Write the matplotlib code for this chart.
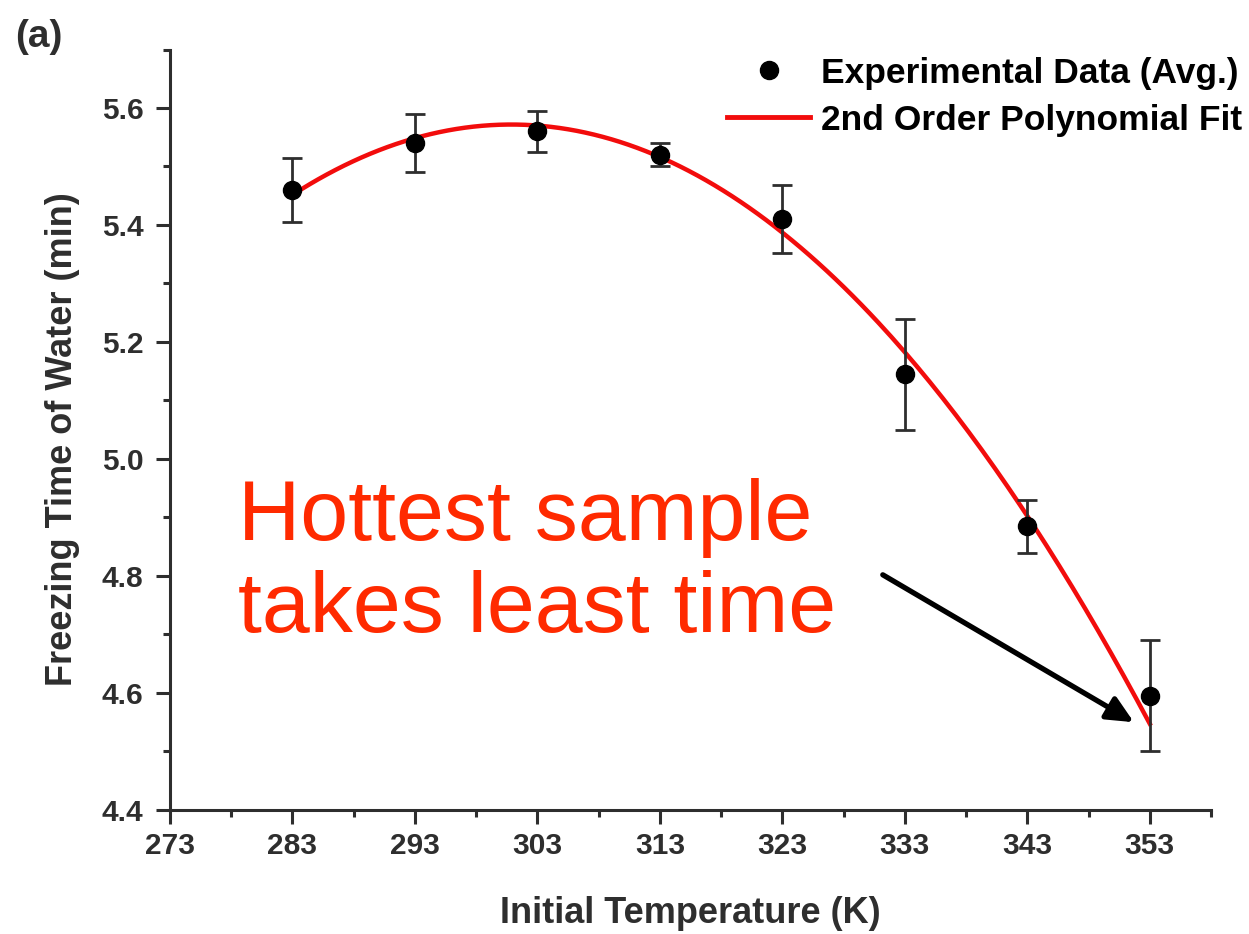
import numpy as np
import matplotlib
matplotlib.use('Agg')
import matplotlib.pyplot as plt
from matplotlib.lines import Line2D

temps = [283, 293, 303, 313, 323, 333, 343, 353]
times = [5.46, 5.54, 5.56, 5.52, 5.41, 5.145, 4.885, 4.595]
errs = [0.055, 0.05, 0.035, 0.02, 0.058, 0.095, 0.045, 0.095]

x_ticks = [273, 283, 293, 303, 313, 323, 333, 343, 353]
y_ticks = [4.4, 4.6, 4.8, 5.0, 5.2, 5.4, 5.6]

plt.rcParams['font.family'] = ['Liberation Sans', 'DejaVu Sans']
dark = '#2e2e2e'

fig = plt.figure(figsize=(12.49, 9.34), dpi=100)
ax = fig.add_axes([0.1361, 0.1328, 0.8335, 0.8142])

# 2nd order fit (weighted by the error bars)
coef = np.polyfit(temps, times, 2, w=1/np.array(errs))
xf = np.linspace(temps[0], temps[-1], 200)
ax.plot(xf, np.polyval(coef, xf), color='#f20c0c', lw=3.2, zorder=3)

ax.errorbar(temps, times, yerr=errs, fmt='o', color='black', ms=13,
            ecolor=dark, elinewidth=2, capsize=7, capthick=2, zorder=4)

ax.set_xlim(273, 358)
ax.set_ylim(4.4, 5.7)
ax.set_xticks(x_ticks)
ax.set_xticks(np.arange(278, 359, 10), minor=True)
ax.set_yticks(y_ticks)
ax.set_yticks(np.arange(4.5, 5.75, 0.2), minor=True)
ax.set_yticklabels(['%.1f' % v for v in y_ticks])

for s in ['top', 'right']:
    ax.spines[s].set_visible(False)
for s in ['left', 'bottom']:
    ax.spines[s].set_linewidth(2.2)
    ax.spines[s].set_color(dark)

ax.tick_params(which='major', direction='out', length=10, width=2.2, color=dark,
               labelsize=21.5, labelcolor=dark)
ax.tick_params(which='minor', direction='out', length=5, width=2.2, color=dark)
ax.tick_params(axis='x', which='major', pad=6)
ax.tick_params(axis='y', which='major', pad=9)
for lab in ax.get_xticklabels() + ax.get_yticklabels():
    lab.set_fontweight('bold')

ax.set_xlabel('Initial Temperature (K)', fontsize=26, fontweight='bold',
              color=dark)
ax.set_ylabel('Freezing Time of Water (min)', fontsize=26, fontweight='bold',
              color=dark)
ax.xaxis.set_label_coords(0.5, -0.113)
ax.yaxis.set_label_coords(-0.086, 0.488)

fig.text(0.012, 0.96, '(a)', fontsize=28, fontweight='bold', color=dark,
         va='center', ha='left')

handles = [Line2D([], [], marker='o', ls='none', color='black', ms=13),
           Line2D([], [], color='#f20c0c', lw=3.5)]
fig.legend(handles, ['Experimental Data (Avg.)', '2nd Order Polynomial Fit'],
           loc='upper right', bbox_to_anchor=(1.0, 0.947), frameon=False,
           prop={'weight': 'bold', 'size': 25.5}, handlelength=2.35,
           handletextpad=0.3, labelspacing=0.4, borderpad=0.1,
           borderaxespad=0.1)

ax.text(0.0655, 0.234, 'Hottest sample\ntakes least time', transform=ax.transAxes,
        fontsize=62, color='#ff2a00', ha='left', va='baseline',
        linespacing=1.2)
ax.annotate('', xy=(351.7, 4.55), xytext=(331.2, 4.802),
            arrowprops=dict(arrowstyle='-|>,head_length=1.6,head_width=0.75',
                            color='black', lw=3.8, shrinkA=0, shrinkB=0),
            zorder=5)

fig.savefig('out.png', dpi=100)
